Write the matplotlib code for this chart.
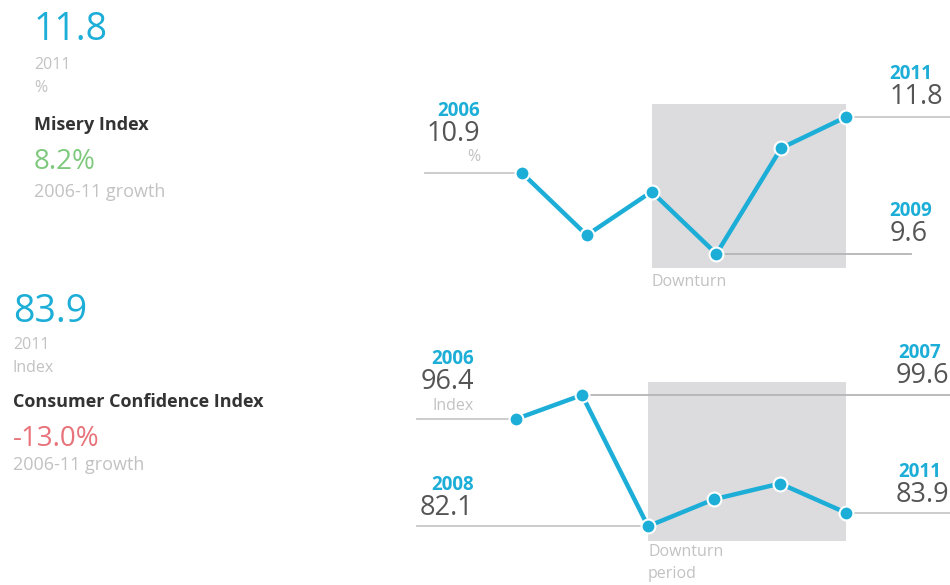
import matplotlib.pyplot as plt

plt.rcParams['font.family'] = ['Open Sans', 'DejaVu Sans']

# Data
years = [2006, 2007, 2008, 2009, 2010, 2011]
misery = [10.9, 9.9, 10.6, 9.6, 11.3, 11.8]
confidence = [96.4, 99.6, 82.1, 85.7, 87.8, 83.9]
downturn = (2008, 2011)
misery_growth = "8.2%"
confidence_growth = "-13.0%"

BLUE = '#1daed8'
DARK = '#555555'
LIGHT = '#c2c2c2'
RULE = '#c8c8c8'
SHADE = '#dcdcde'

W, H = 950, 585
fig = plt.figure(figsize=(W / 100, H / 100), dpi=100)


def px(x, y):
    return x / W, 1 - y / H


def add_axes(x0, y0, x1, y1):
    ax = fig.add_axes([x0 / W, 1 - y1 / H, (x1 - x0) / W, (y1 - y0) / H])
    ax.axis('off')
    return ax


def summary(x, y, values, unit, title, growth, gcolor, steps):
    s1, s2, s3, s4, s5 = steps
    fig.text(*px(x, y), f"{values[-1]:.1f}", color=BLUE, fontsize=27, va='center')
    fig.text(*px(x, y + s1), str(years[-1]), color=LIGHT, fontsize=11.5, va='center')
    fig.text(*px(x, y + s2), unit, color=LIGHT, fontsize=11.5, va='center')
    fig.text(*px(x, y + s3), title, color='#333333', fontsize=13, fontweight='bold', va='center')
    fig.text(*px(x, y + s4), growth, color=gcolor, fontsize=20, va='center')
    fig.text(*px(x, y + s5), "2006-11 growth", color=LIGHT, fontsize=13, va='center')


def label(ax, x, y, year, value, ha, sub=None, dx=0):
    ax.annotate(str(year), (x, y), xytext=(dx, 16.5), textcoords='offset points',
                ha=ha, va='center', color=BLUE, fontsize=13.5, fontweight='bold')
    ax.annotate(f"{value:.1f}", (x, y), xytext=(0, 0), textcoords='offset points',
                ha=ha, va='center', color=DARK, fontsize=19.5)
    if sub:
        ax.annotate(sub, (x, y), xytext=(0, -17), textcoords='offset points',
                    ha=ha, va='center', color=LIGHT, fontsize=11.5)


def series(ax, vals):
    ax.plot(years, vals, color=BLUE, lw=3.2, marker='o', ms=10,
            mfc=BLUE, mec='white', mew=1.5, zorder=4, solid_capstyle='round')


# Left summaries
summary(34, 30, misery, "%", "Misery Index", misery_growth, '#7fc97f',
        (35, 58, 95, 132, 162))
summary(13, 312, confidence, "Index", "Consumer Confidence Index", confidence_growth,
        '#e8737a', (33, 56, 90, 127, 153))

# Misery index chart
ax1 = add_axes(400, 60, 950, 300)
ax1.set_xlim(2004.117, 2012.605)
ax1.set_ylim(8.858, 12.717)
ax1.fill_between(downturn, 9.37, 12.01, color=SHADE, lw=0, zorder=1)
i0, i1 = 0, len(years) - 1
imin = misery.index(min(misery))
ax1.plot([2004.5, years[i0]], [misery[i0]] * 2, color=RULE, lw=1.3, zorder=2)
ax1.plot([years[i1], 2012.6], [misery[i1]] * 2, color=RULE, lw=1.3, zorder=2)
ax1.plot([years[imin], 2012.0], [misery[imin]] * 2, color='#b5b5b5', lw=1.3, zorder=2)
series(ax1, misery)
# label anchors: y of the value text in data units
label(ax1, 2005.35, misery[i0] + 0.63, years[i0], misery[i0], 'right', '%')
label(ax1, 2011.67, misery[i1] + 0.33, years[i1], misery[i1], 'left')
label(ax1, 2011.67, misery[imin] + 0.32, years[imin], misery[imin], 'left')
ax1.text(downturn[0], 9.15, "Downturn", color=LIGHT, fontsize=11.5, va='center', ha='left')

# Consumer confidence chart
ax2 = add_axes(400, 330, 950, 585)
ax2.set_xlim(2004.242, 2012.576)
ax2.set_ylim(74.27, 108.27)
ax2.fill_between(downturn, 80.1, 101.3, color=SHADE, lw=0, zorder=1)
imax = confidence.index(max(confidence))
imin = confidence.index(min(confidence))
ax2.plot([2004.5, years[i0]], [confidence[i0]] * 2, color=RULE, lw=1.3, zorder=2)
ax2.plot([years[imax], 2012.6], [confidence[imax]] * 2, color='#b5b5b5', lw=1.3, zorder=2)
ax2.plot([2004.5, years[imin]], [confidence[imin]] * 2, color=RULE, lw=1.3, zorder=2)
ax2.plot([years[i1], 2012.6], [confidence[i1]] * 2, color=RULE, lw=1.3, zorder=2)
series(ax2, confidence)
label(ax2, 2005.36, confidence[i0] + 4.9, years[i0], confidence[i0], 'right', 'Index')
label(ax2, 2012.57, confidence[imax] + 2.6, years[imax], confidence[imax], 'right', dx=-6)
label(ax2, 2005.36, confidence[imin] + 2.4, years[imin], confidence[imin], 'right')
label(ax2, 2012.57, confidence[i1] + 2.4, years[i1], confidence[i1], 'right', dx=-6)
ax2.text(downturn[0], 78.7, "Downturn", color=LIGHT, fontsize=11.5, va='center', ha='left')
ax2.text(downturn[0], 75.8, "period", color=LIGHT, fontsize=11.5, va='center', ha='left')

fig.savefig('out.png', dpi=100)
